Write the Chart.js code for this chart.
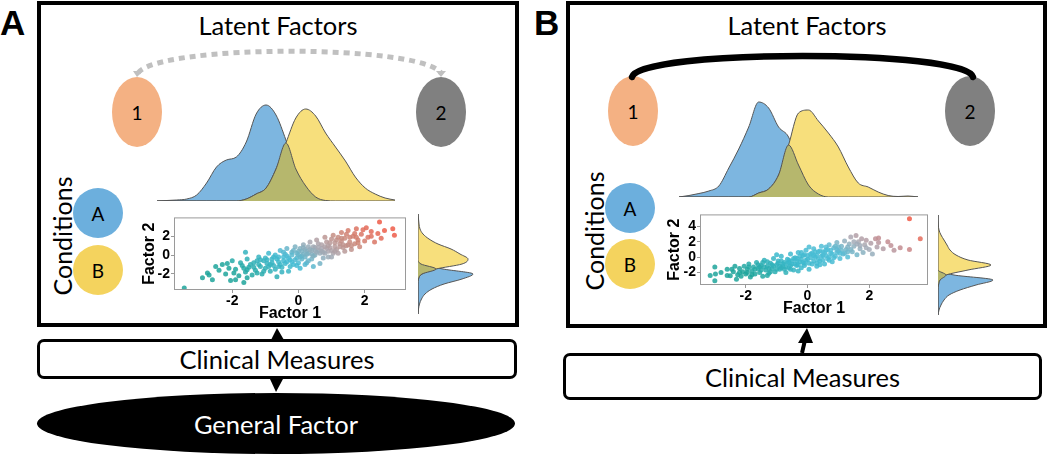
<!DOCTYPE html>
<html>
<head>
<meta charset="utf-8">
<script src="https://cdn.jsdelivr.net/npm/chart.js@4.4.1/dist/chart.umd.min.js"></script>
<style>
body { margin: 0; background: #fff; }
#fig { position: relative; width: 1050px; height: 454px; overflow: hidden; font-family: Lato, 'Open Sans', sans-serif; color: #000; }
.panel { position: absolute; border: 4px solid #000; box-sizing: border-box; }
.lbl { position: absolute; font: bold 35px 'Liberation Sans', Arial, sans-serif; line-height: 40px; }
.title { position: absolute; width: 300px; text-align: center; font-size: 25.5px; line-height: 30px; }
.oval { position: absolute; border-radius: 50%; display: flex; align-items: center; justify-content: center; font-size: 19px; }
.cond { position: absolute; font-size: 25px; line-height: 30px; transform: translate(-50%, -50%) rotate(-90deg); white-space: nowrap; }
.box { position: absolute; border: 3px solid #000; border-radius: 7px; box-sizing: border-box; display: flex; align-items: center; justify-content: center; font-size: 25.5px; }
canvas { position: absolute; }
svg { position: absolute; left: 0; top: 0; }
</style>
</head>
<body>
<div id="fig">
  <div class="lbl" style="left:0;top:3px">A</div>
  <div class="lbl" style="left:534px;top:3px">B</div>

  <div class="panel" style="left:37px;top:1px;width:482px;height:326px"></div>
  <div class="panel" style="left:566px;top:1px;width:481px;height:327px"></div>

  <div class="title" style="left:128px;top:10px">Latent Factors</div>
  <div class="title" style="left:657px;top:10px">Latent Factors</div>

  <div class="oval" style="left:112px;top:77px;width:50px;height:70px;background:#f4b183">1</div>
  <div class="oval" style="left:416px;top:77px;width:50px;height:70px;background:#808080">2</div>
  <div class="oval" style="left:608px;top:76px;width:50px;height:70px;background:#f4b183">1</div>
  <div class="oval" style="left:945px;top:76px;width:50px;height:70px;background:#808080">2</div>

  <div class="cond" style="left:62px;top:236px">Conditions</div>
  <div class="cond" style="left:594px;top:231px">Conditions</div>

  <div class="oval" style="left:73px;top:188px;width:50px;height:50px;background:#6cafdd">A</div>
  <div class="oval" style="left:73px;top:245px;width:50px;height:50px;background:#f4d35e">B</div>
  <div class="oval" style="left:605px;top:183px;width:50px;height:50px;background:#6cafdd">A</div>
  <div class="oval" style="left:605px;top:239px;width:50px;height:50px;background:#f4d35e">B</div>

  <div class="box" style="left:37px;top:339px;width:480px;height:40px">Clinical Measures</div>
  <div class="box" style="left:563px;top:353px;width:479px;height:47px">Clinical Measures</div>
  <div class="oval" style="left:37px;top:393px;width:478px;height:61px;background:#000;color:#fff;font-size:25.5px">General Factor</div>

  <canvas id="densA" width="238" height="101" style="left:157px;top:101px"></canvas>
  <canvas id="densB" width="239" height="101" style="left:679px;top:97px"></canvas>
  <canvas id="margA" width="61" height="100" style="left:417px;top:214px"></canvas>
  <canvas id="margB" width="61" height="100" style="left:937px;top:215px"></canvas>
  <canvas id="scatA" width="282" height="116" style="left:128px;top:208px"></canvas>
  <canvas id="scatB" width="278" height="115" style="left:654px;top:205px"></canvas>

  <svg width="1050" height="454">
    <path d="M138,73 C160,44 420,44 441,73" fill="none" stroke="#c0c0c0" stroke-width="5" stroke-dasharray="6,5"/>
    <polygon points="133,71 143,71 137,77" fill="#c0c0c0"/>
    <polygon points="436,71 446,71 441,77" fill="#c0c0c0"/>
    <path d="M632,77 C638,49 967,49 973,77" fill="none" stroke="#000" stroke-width="6.5" stroke-linecap="round"/>
    <polygon points="271,340 284,340 277,328" fill="#000"/>
    <polygon points="270,379 283,379 276,392" fill="#000"/>
    <line x1="802" y1="353" x2="805" y2="340" stroke="#000" stroke-width="4"/>
    <polygon points="798,343 813,343 807,328" fill="#000"/>
  </svg>
</div>

<script>
// density curves, grid in factor units
const densGrid = [-3, -2.75, -2.5, -2.25, -2, -1.75, -1.5, -1.25, -1, -0.75, -0.5, -0.25, 0,
                  0.25, 0.5, 0.75, 1, 1.25, 1.5, 1.75, 2, 2.25, 2.5, 2.75, 3];
const blueA   = [0, 0.5, 1, 2, 6, 18, 34, 41, 44, 59, 87, 96, 86, 61, 32, 15, 4, 0.5, 0, 0, 0, 0, 0, 0, 0];
const yellowA = [0, 0, 0, 0, 0, 0, 0, 0, 0, 2, 7, 13, 32, 58, 83, 92, 85, 68, 54, 40, 24, 13, 7, 3, 1];
const blueB   = [0, 1.5, 3.5, 6, 11, 29, 48, 70, 95, 89, 70, 60, 32, 12, 3, 0, 0, 0, 0, 0, 0, 0, 0, 0, 0];
const yellowB = [0, 0, 0, 0, 0, 0, 0, 0, 4, 8, 22, 52, 84, 87, 76, 64, 50, 30, 14, 10, 5, 1.5, 0.5, 1, 0];

// marginal densities along Factor 2 (top to bottom)
const margGrid = [5, 4.5, 4, 3.5, 3, 2.5, 2, 1.5, 1, 0.5, 0, -0.5, -1, -1.5, -2, -2.5, -3, -3.5, -4, -4.5, -5];
const margYellowA = [0, 0.5, 1, 2, 5, 11, 20, 33, 42, 50, 44, 18, 4, 0.5, 0, 0, 0, 0, 0, 0, 0];
const margBlueA   = [0, 0, 0, 0, 0, 0, 0, 0, 0, 0, 3, 25, 55, 44, 26, 14, 7, 3.5, 1.5, 0.5, 0];
const margYellowB = [0, 0, 0.3, 1, 3, 6, 9, 12, 18, 30, 53, 30, 8, 2, 0.5, 0, 0, 0, 0, 0, 0];
const margBlueB   = [0, 0, 0, 0, 0, 0, 0, 0, 0, 0, 0, 0, 16, 55, 38, 22, 11, 6, 3, 1, 0];

// scatter: [Factor 1, Factor 2]
const scatterA = [
  [-3.45,-3.5],[-2.9,-2.4],[-2.75,-1.9],[-2.7,-2.1],[-2.5,-1.2],[-2.4,-1.6],[-2.3,-1.0],[-2.2,-2.0],[-2.1,-1.4],[-2.0,-0.6],
  [-1.9,-2.6],[-1.8,-2.2],[-1.65,-2.9],[-1.7,-1.1],[-1.6,-1.8],[-1.55,-0.4],[-1.5,-1.3],[-1.4,-2.1],[-1.35,-0.8],[-1.3,-1.6],
  [-1.2,-0.2],[-1.15,-1.2],[-1.1,-2.0],[-1.05,-0.6],[-1.0,-1.4],[-0.95,-0.9],[-0.9,0.2],[-0.85,-1.7],[-0.8,-0.4],[-0.75,-1.1],
  [-0.7,0.0],[-0.65,-2.3],[-0.6,-0.7],[-0.55,0.5],[-0.5,-1.3],[-0.45,-0.2],[-0.4,-0.9],[-0.35,0.7],[-0.3,-1.7],[-0.25,-0.5],
  [-0.2,0.3],[-0.15,-1.0],[-0.1,0.9],[-0.05,-0.3],[0,0.4],[0.05,-1.4],[0.1,-0.1],[0.15,1.1],[0.2,0.6],[0.25,-0.8],
  [0.3,0.2],[0.35,1.4],[0.4,-0.4],[0.45,0.9],[0.5,0.0],[0.55,1.6],[0.6,0.5],[0.65,-0.9],[0.7,1.1],[0.75,0.3],
  [0.8,1.9],[0.85,0.7],[0.9,-0.2],[0.95,1.3],[1.0,0.5],[1.05,2.1],[1.1,0.9],[1.15,1.6],[1.2,0.2],[1.25,1.2],
  [1.3,2.4],[1.35,0.8],[1.4,1.8],[1.45,1.0],[1.5,2.6],[1.55,1.4],[1.6,0.6],[1.65,2.0],[1.7,1.2],[1.75,2.8],
  [1.8,1.6],[1.85,0.9],[1.9,2.2],[2.0,1.5],[2.05,2.9],[2.1,1.9],[2.2,2.5],[2.3,1.4],[2.4,2.3],[2.45,3.5],
  [2.5,1.8],[2.6,2.6],[2.85,2.8],[2.9,2.1],[2.2,2.0],[1.95,2.7],
  [-1.9,-1.5],[-1.75,-0.8],[-1.45,-1.0],[-1.25,-1.9],[-1.2,-1.0],[-1.0,-0.3],[-0.9,-1.2],[-0.8,-0.8],[-0.7,-1.5],[-0.6,-0.2],
  [-0.55,-1.0],[-0.45,-0.6],[-0.4,0.1],[-0.3,-0.3],[-0.25,-1.2],[-0.2,-0.7],[-0.1,-0.5],[-0.05,0.2],[0.0,-0.8],[0.05,0.7],
  [0.1,-0.4],[0.15,0.1],[0.2,-0.2],[0.25,0.4],[0.3,-0.6],[0.35,0.6],[0.4,0.1],[0.45,-0.1],[0.5,0.8],[0.55,0.3],
  [0.6,1.2],[0.65,0.2],[0.7,0.7],[0.75,-0.3],[0.8,0.9],[0.85,1.4],[0.9,0.4],[0.95,0.8],[1.0,1.7],[1.05,0.2],
  [1.1,1.3],[1.15,0.6],[1.2,1.9],[1.25,0.9],[1.3,1.5],[1.35,1.1],[1.4,0.4],[1.45,2.2],[1.55,1.9],[1.6,1.0],
  [1.7,2.3],[1.8,1.3],[-1.35,-1.3],[-1.05,-1.7],[-0.95,-0.5],[-0.65,-0.4],[-0.35,-0.1],[-0.15,0.5],[0.0,0.0],[0.1,0.4],
  [0.3,0.9],[0.5,0.5],[0.7,0.4],[0.9,1.0],[-2.15,-0.9],[-2.6,-2.6],[-1.95,-1.9],[-1.55,-2.4],[-0.5,-1.8],[0.2,-1.0],
  [0.45,-1.2],[1.0,-0.2],[-1.6,0.3],[-2.05,-2.7],[-1.25,-0.6],
  [-1.55,-1.55],[-1.15,-0.5],[-0.85,-1.0],[-0.6,-1.2],[-0.35,-0.7],[-0.2,0.0],[0.05,-0.2],[0.25,0.1],[0.4,0.5],[0.6,0.8],
  [0.8,0.2],[1.1,0.4],[1.3,1.8],[1.5,1.1],[1.75,1.9],[-0.75,-0.2],[-0.45,0.3],[0.15,0.8],[-1.65,-1.4],[-0.05,-1.1]
];
const scatterB = [
  [-3.15,-2.4],[-3.0,-1.3],[-2.98,-2.2],[-3.0,-3.1],[-2.6,-1.6],[-2.6,-2.4],[-2.5,-2.45],[-2.3,-2.9],[-2.26,-2.3],[-2.2,-1.5],
  [-2.15,-2.5],[-2.1,-1.9],[-2.05,-1.2],[-2.0,-2.2],[-1.95,-1.6],[-1.9,-0.9],[-1.85,-2.6],[-1.8,-1.8],[-1.75,-1.3],[-1.7,-2.2],
  [-1.65,-0.7],[-1.6,-1.5],[-1.55,-2.0],[-1.5,-1.1],[-1.45,-2.5],[-1.4,-0.4],[-1.35,-1.7],[-1.3,-1.2],[-1.25,-2.1],[-1.2,-0.8],
  [-1.15,-1.5],[-1.1,-0.2],[-1.05,-1.9],[-1.0,-1.0],[-0.95,-0.5],[-0.9,-1.6],[-0.85,0.1],[-0.8,-1.2],[-0.75,-0.7],[-0.7,-2.0],
  [-0.65,-0.3],[-0.6,-1.4],[-0.55,0.4],[-0.5,-0.9],[-0.45,-1.7],[-0.4,-0.1],[-0.35,-1.1],[-0.3,0.6],[-0.25,-0.6],[-0.2,-1.4],
  [-0.15,0.2],[-0.1,-0.8],[-0.05,0.9],[0.0,-0.3],[0.05,-1.6],[0.1,0.4],[0.15,-0.9],[0.2,1.1],[0.25,0.0],[0.3,-1.2],
  [0.35,0.7],[0.4,-0.5],[0.45,1.4],[0.5,0.2],[0.55,-0.9],[0.6,0.9],[0.65,-0.2],[0.7,1.6],[0.75,0.5],[0.8,-0.6],
  [0.85,1.2],[0.9,0.1],[0.95,1.9],[1.0,0.8],[1.05,-0.2],[1.1,1.4],[1.15,0.4],[1.2,2.1],[1.25,1.0],[1.3,0.0],
  [1.35,1.7],[1.4,2.6],[1.45,0.7],[1.5,1.4],[1.57,2.8],[1.6,0.3],[1.65,2.0],[1.7,1.1],[1.75,2.4],[1.8,0.6],
  [1.85,1.6],[1.9,2.2],[2.0,1.0],[2.05,1.8],[2.1,0.4],[2.2,2.4],[2.25,1.3],[2.3,2.5],[2.3,1.9],[2.45,1.1],
  [2.6,2.0],[2.8,0.9],[3.0,1.2],[3.3,5.0],[3.65,2.4],[3.3,1.0],[2.7,1.5],
  [-2.4,-1.9],[-2.2,-2.0],[-1.9,-1.3],[-1.7,-1.6],[-1.6,-1.0],[-1.5,-1.7],[-1.4,-1.3],[-1.3,-0.6],[-1.25,-1.5],[-1.2,-1.9],
  [-1.1,-1.2],[-1.0,-1.6],[-0.95,-0.8],[-0.9,-1.2],[-0.85,-0.5],[-0.8,-0.9],[-0.7,-1.3],[-0.65,-0.8],[-0.6,-0.4],[-0.55,-1.1],
  [-0.5,-0.5],[-0.45,-0.2],[-0.4,-0.9],[-0.35,-0.5],[-0.3,-1.0],[-0.25,0.1],[-0.2,-0.3],[-0.15,-0.7],[-0.1,0.3],[-0.05,-0.4],
  [0.0,0.2],[0.05,-0.8],[0.1,-0.1],[0.15,0.5],[0.2,-0.5],[0.25,0.7],[0.3,0.2],[0.35,-0.3],[0.4,0.8],[0.45,0.1],
  [0.5,-0.4],[0.55,0.6],[0.6,0.2],[0.65,1.0],[0.7,0.0],[0.75,0.9],[0.8,0.4],[0.9,1.4],[0.95,0.6],[1.0,1.3],
  [1.1,0.9],[1.2,0.5],[1.3,1.3],[1.4,1.0],[1.5,2.0],[1.7,1.5],[-1.8,-2.3],[-1.45,-0.7],[-0.75,-1.6],[0.05,1.3],
  [0.4,-1.0],[0.85,-0.1],[-2.8,-2.0],[-2.35,-1.2],[-1.0,0.3],[-0.3,-1.8],[1.9,1.2],
  [-1.55,-1.3],[-1.15,-1.0],[-0.85,-1.4],[-0.6,-0.7],[-0.35,-0.2],[-0.1,-1.1],[0.2,0.2],[0.5,0.7],[0.7,-0.4],[1.05,0.5],
  [-1.95,-2.0],[-1.3,-2.4],[-0.55,-1.6],[0.3,-0.8],[0.95,1.0],[1.3,0.7],[-2.45,-1.6],[-0.2,0.6],[0.6,1.3],[1.6,1.7]
];

const xTicksA = [-2, 0, 2];
const yTicksA = [-2, 0, 2];
const xTicksB = [-2, 0, 2];
const yTicksB = [-2, 0, 2, 4];

const BLUE = '#7db6e0';
const YELLOW = '#f7df7c';
const OLIVE = '#b6b76d';
const EDGE = '#555555';

// colour ramp teal -> cyan -> grey -> salmon -> red along the cloud
const rampA = [[-2.8, [30, 165, 155]], [-0.5, [70, 188, 214]], [1.0, [168, 168, 178]], [2.4, [205, 135, 120]], [4.0, [238, 92, 72]]];
const rampB = [[-3, [30, 165, 155]], [-0.8, [60, 185, 205]], [1.2, [80, 190, 215]], [2.6, [170, 170, 180]], [3.6, [195, 140, 145]], [4.5, [225, 115, 100]], [5.8, [240, 90, 70]]];

function rampColor(stops, t) {
    if (t <= stops[0][0]) return stops[0][1];
    for (let i = 1; i < stops.length; i++) {
        if (t <= stops[i][0]) {
            const [t0, c0] = stops[i - 1], [t1, c1] = stops[i];
            const f = (t - t0) / (t1 - t0);
            return c0.map((c, k) => Math.round(c + (c1[k] - c) * f));
        }
    }
    return stops[stops.length - 1][1];
}

const framePlugin = {
    id: 'frame',
    afterDraw(chart) {
        const { ctx, chartArea: a } = chart;
        ctx.save();
        ctx.strokeStyle = '#9a9a9a';
        ctx.lineWidth = 1;
        ctx.strokeRect(a.left + 0.5, a.top + 0.5, a.right - a.left - 1, a.bottom - a.top - 1);
        ctx.restore();
    }
};

function createDensity(id, grid, blue, yellow, vertical, range) {
    const pts = vals => grid.map((g, i) => vertical ? { x: vals[i], y: g } : { x: g, y: vals[i] });
    const both = blue.map((v, i) => Math.min(v, yellow[i]));
    const ds = (vals, color, order) => ({
        data: pts(vals), backgroundColor: color, borderColor: EDGE, borderWidth: 1,
        fill: 'origin', order, pointRadius: 0, cubicInterpolationMode: 'monotone'
    });
    const pos = { type: 'linear', display: false, min: range[0], max: range[1] };
    const amt = { type: 'linear', display: false, min: 0, max: vertical ? 60 : 100 };
    return new Chart(document.getElementById(id), {
        type: 'line',
        data: { datasets: [ds(both, OLIVE, 0), ds(yellow, YELLOW, 1), ds(blue, BLUE, 2)] },
        options: {
            responsive: false, animation: false, indexAxis: vertical ? 'y' : 'x',
            layout: { padding: vertical ? { left: 1 } : { bottom: 1 } },
            plugins: { legend: { display: false }, tooltip: { enabled: false } },
            scales: vertical ? { x: amt, y: pos } : { x: pos, y: amt }
        }
    });
}

function createScatter(id, pts, ramp, xr, yr, xTicks, yTicks, yAxisW, xAxisH, titlePad) {
    const tickFont = { family: "'Liberation Sans', Arial, sans-serif", size: 14, weight: 'bold' };
    const titleFont = { family: "'Liberation Sans', Arial, sans-serif", size: 16, weight: 'bold', lineHeight: 1.2 };
    const axis = (min, max, list, label, fit, pad) => ({
        type: 'linear', min, max,
        afterBuildTicks: s => { s.ticks = list.map(v => ({ value: v })); },
        afterFit: fit,
        grid: { drawOnChartArea: false, color: '#999', tickLength: 3 },
        border: { display: false },
        ticks: { color: '#000', font: tickFont, padding: pad },
        title: { display: true, text: label, color: '#000', font: titleFont, padding: titlePad[label] }
    });
    return new Chart(document.getElementById(id), {
        type: 'scatter',
        data: {
            datasets: [{
                data: pts.map(p => ({ x: p[0], y: p[1] })),
                pointRadius: 2.5, borderWidth: 0,
                backgroundColor: c => {
                    const r = c.raw;
                    const col = rampColor(ramp, r.x + 0.5 * r.y);
                    return `rgba(${col[0]},${col[1]},${col[2]},0.85)`;
                }
            }]
        },
        options: {
            responsive: false, animation: false,
            layout: { padding: { top: 4, right: 3, left: 0, bottom: 0 } },
            plugins: { legend: { display: false }, tooltip: { enabled: false } },
            scales: {
                x: axis(xr[0], xr[1], xTicks, 'Factor 1', s => { s.height = xAxisH; }, 0),
                y: axis(yr[0], yr[1], yTicks, 'Factor 2', s => { s.width = yAxisW; }, 1)
            }
        },
        plugins: [framePlugin]
    });
}

createDensity('densA', densGrid, blueA, yellowA, false, [-3, 3]);
createDensity('densB', densGrid, blueB, yellowB, false, [-3, 3]);
createDensity('margA', margGrid, margBlueA, margYellowA, true, [-5, 5]);
createDensity('margB', margGrid, margBlueB, margYellowB, true, [-5, 5]);

createScatter('scatA', scatterA, rampA, [-3.76, 3.25], [-3.7, 4.0], xTicksA, yTicksA, 46, 34,
    { 'Factor 1': { top: 0, bottom: 1 }, 'Factor 2': { top: 12, bottom: 0 } });
createScatter('scatB', scatterB, rampB, [-3.48, 3.9], [-3.64, 5.56], xTicksB, yTicksB, 46, 35,
    { 'Factor 1': { top: 0, bottom: 2 }, 'Factor 2': { top: 11, bottom: 0 } });
</script>
</body>
</html>
